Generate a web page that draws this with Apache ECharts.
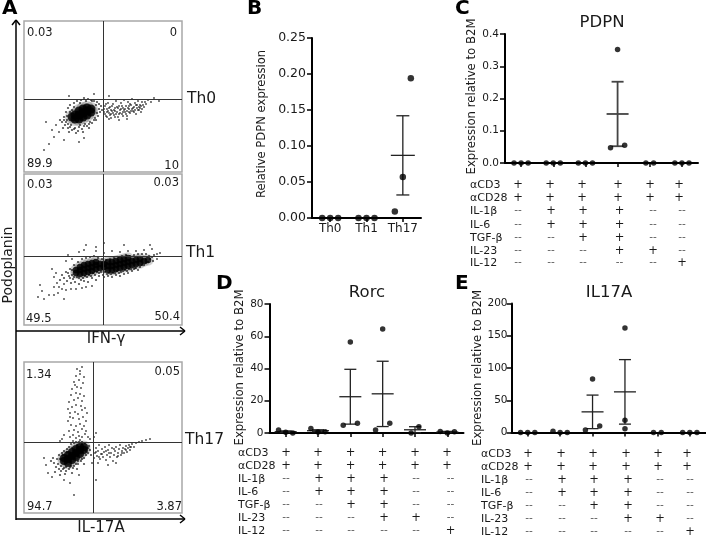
<!DOCTYPE html>
<html>
<head>
<meta charset="utf-8">
<style>html,body{margin:0;padding:0;background:#fff}#c{width:706px;height:537px}</style>
<script src="https://cdn.jsdelivr.net/npm/echarts@6/dist/echarts.min.js"></script>
</head>
<body>
<div id="c"></div>
<script>
// ---- Panel A: flow plots (events, plot units) ----
const th0Core = [[51,53],[51,57],[55,53],[55,57],[55,61],[59,55],[59,59],[59,63],[63,57],[63,61],[63,64],[67,60],[67,63],[48,55]];
const th0Halo = [[38,50],[40,55],[41,47],[42,60],[43,52],[44,44],[44,64],[46,67],[47,47],[48,42],[48,62],[50,69],[51,44],[53,71],[54,41],[56,47],[57,72],[58,43],[60,74],[61,48],[63,46],[64,73],[66,50],[67,72],[68,49],[70,71],[71,54],[72,52],[73,70],[74,56],[75,68],[76,60],[77,66],[78,62],[36,52],[39,44],[45,40],[52,39],[59,40],[65,44],[42,50],[44,48],[46,45],[50,43],[55,45],[60,46],[65,48],[70,52],[73,59],[75,63],[72,67],[68,71],[62,71],[56,69],[50,65],[46,60],[43,56],[40,52]];
const th0Sparse = [[80,60],[81,66],[82,56],[83,63],[84,69],[85,59],[86,65],[87,54],[88,61],[89,68],[90,57],[91,64],[92,71],[93,60],[94,55],[95,66],[96,62],[97,69],[98,58],[99,64],[100,72],[101,60],[102,66],[103,56],[104,70],[105,63],[106,59],[107,67],[108,73],[109,61],[110,65],[111,69],[112,58],[113,64],[114,71],[115,62],[116,67],[117,60],[118,70],[120,65],[122,68],[124,72],[127,70],[130,74],[135,71],[80,63],[82,68],[84,61],[86,57],[88,66],[90,62],[92,58],[94,64],[96,59],[98,66],[100,62],[102,58],[104,64],[106,68],[108,63],[110,60],[112,67],[114,62],[116,64],[118,63],[85,53],[95,52],[103,53],[81,58],[83,60],[85,64],[87,62],[89,59],[91,61],[93,65],[95,58],[97,63],[99,60],[101,63],[103,61],[105,66],[107,61],[109,64],[111,62],[113,67],[115,65],[117,66],[119,67],[121,70],[83,55],[87,58],[91,55],[99,56],[105,60],[20,22],[25,28],[30,35],[28,42],[32,47],[22,50],[45,76],[70,78],[85,76],[55,30],[40,32],[35,40],[60,34]];
const th1Core = [[52,52],[52,55],[56,51],[56,55],[56,58],[60,52],[60,56],[60,60],[64,53],[64,57],[64,61],[68,54],[68,58],[68,62],[72,56],[72,60],[72,63],[76,57],[76,61],[80,58],[80,61],[84,55],[84,59],[84,63],[88,55],[88,59],[88,63],[92,56],[92,60],[92,64],[96,57],[96,61],[96,65],[100,58],[100,62],[100,66],[104,59],[104,63],[104,67],[108,60],[108,64],[112,61],[112,65],[116,62],[116,66],[120,64],[124,65]];
const th1Halo = [[36,45],[38,50],[40,47],[42,53],[43,44],[45,49],[46,56],[47,42],[49,46],[50,60],[51,43],[53,48],[54,63],[55,41],[57,45],[58,66],[60,44],[61,49],[62,67],[64,43],[65,50],[66,68],[68,47],[69,52],[70,69],[72,45],[73,53],[74,67],[75,49],[77,53],[78,66],[80,48],[81,53],[82,65],[83,62],[84,49],[85,52],[86,66],[88,48],[89,52],[90,67],[92,50],[93,54],[94,68],[96,49],[97,53],[98,69],[100,51],[101,55],[102,70],[104,52],[105,56],[106,69],[108,54],[110,56],[110,70],[112,57],[114,55],[114,71],[116,58],[118,60],[118,71],[120,60],[122,62],[122,71],[124,63],[125,69],[126,66],[128,68],[130,70],[129,64],[79,58],[80,62],[44,52],[48,50],[46,47],[50,48],[48,55],[55,47],[59,47],[63,48],[67,49],[71,50],[75,52],[79,50],[83,51],[87,51],[91,52],[95,52],[99,54],[103,54],[107,56],[111,57]];
const th1Sparse = [[30,48],[33,42],[35,38],[38,36],[30,38],[42,35],[47,36],[52,36],[58,37],[40,41],[62,38],[68,39],[32,52],[28,56],[48,66],[42,64],[44,70],[55,73],[60,75],[72,74],[80,72],[88,74],[96,73],[104,74],[112,74],[120,75],[128,76],[133,71],[136,72],[133,66],[80,82],[72,78],[62,80],[126,80],[100,80],[18,34],[14,28],[20,26],[16,40],[25,30],[34,32],[40,26],[30,30]];
const th17Core = [[40,52],[40,55],[44,50],[44,54],[44,58],[48,53],[48,57],[48,61],[52,56],[52,60],[52,64],[56,59],[56,63],[56,66],[60,63],[60,66]];
const th17Halo = [[30,50],[32,46],[33,54],[35,44],[35,58],[37,42],[38,60],[40,45],[40,62],[42,42],[43,64],[45,44],[45,66],[47,47],[47,69],[49,45],[50,70],[52,49],[52,71],[54,52],[55,71],[57,52],[58,71],[60,55],[61,70],[62,58],[64,60],[65,67],[66,63],[67,58],[34,49],[29,55],[41,39],[36,38],[27,52],[31,41],[48,40],[53,44],[60,49],[37,47],[39,44],[42,46],[46,46],[50,47],[54,49],[58,54],[62,62],[64,65],[58,69],[53,68],[48,65],[43,61],[39,58],[36,54]];
const th17Sparse = [[46,76],[49,78],[52,75],[55,77],[58,76],[61,79],[64,76],[45,82],[50,83],[54,81],[58,84],[62,82],[47,88],[52,87],[56,89],[60,87],[44,92],[49,95],[55,94],[59,96],[62,92],[46,100],[51,101],[54,99],[58,103],[48,106],[52,108],[57,107],[61,105],[45,111],[50,113],[54,115],[58,112],[47,118],[52,120],[56,119],[60,117],[48,124],[53,126],[57,125],[50,131],[55,133],[59,130],[52,137],[56,139],[60,136],[53,144],[58,146],[56,142],[51,128],[44,104],[46,96],[63,100],[49,72],[56,73],[66,74],[70,76],[72,80],[40,78],[38,74],[36,72],[70,55],[71,60],[72,65],[73,57],[74,62],[75,68],[76,54],[77,59],[78,64],[79,56],[80,61],[81,66],[82,53],[83,58],[84,63],[85,68],[86,56],[87,60],[88,65],[89,52],[90,58],[91,62],[92,66],[93,56],[94,60],[95,64],[96,68],[97,58],[98,62],[99,65],[100,60],[101,64],[102,67],[103,61],[104,65],[105,68],[106,63],[107,66],[108,69],[110,66],[112,70],[115,71],[118,72],[122,73],[126,74],[72,61],[75,56],[78,59],[82,62],[85,60],[90,64],[94,57],[98,60],[102,63],[106,66],[68,50],[74,50],[84,48],[92,50],[24,40],[28,36],[22,48],[20,55],[40,33],[46,30],[55,38],[50,18],[72,33]];
const flowGateX = [79, 79, 69];
const flowGateY = [73, 69, 71];
const flowNames = ['Th0', 'Th1', 'Th17'];
const flowQuadrants = [['0.03','0','89.9','10'], ['0.03','0.03','49.5','50.4'], ['1.34','0.05','94.7','3.87']];

// ---- Panel B ----
const bCategories = ['Th0', 'Th1', 'Th17'];
const bTicks = [0, 0.05, 0.10, 0.15, 0.20, 0.25];
const bPoints = [[0,0,0],[0,0,0],[0.009,0.057,0.194]];
const bMean = [null,null,0.087];
const bLow = [null,null,0.032];
const bHigh = [null,null,0.142];

// ---- Panels C, D, E ----
const cPoints = [[0,0,0],[0,0,0],[0,0,0],[0.047,0.352,0.055],[0,0],[0,0,0]];
const cMean = [null,null,null,0.152,null,null];
const cLow = [null,null,null,0.052,null,null];
const cHigh = [null,null,null,0.252,null,null];

const dPoints = [[1.8,0.4,0],[2.8,0.6,0.8],[4.8,56.5,6],[1.8,64.5,6],[0,3.8],[1,0,0.7]];
const dMean = [0.8,1.4,22.5,24.3,2,0.6];
const dLow = [0.3,0.8,5.5,4,0.2,0.2];
const dHigh = [1.3,2,39.5,44.5,3.9,1];

const ePoints = [[0,0,0],[2,0,0],[4,83,10],[19,162,6],[0,0],[0,0,0]];
const eMean = [null,null,32,63,null,null];
const eLow = [null,null,6,13,null,null];
const eHigh = [null,null,58,113,null,null];

const rowLabels = ['αCD3','αCD28','IL-1β','IL-6','TGF-β','IL-23','IL-12'];
const P = '+', N = '--';
const treatment = [
  [P,P,P,P,P,P],
  [P,P,P,P,P,P],
  [N,P,P,P,N,N],
  [N,P,P,P,N,N],
  [N,N,P,P,N,N],
  [N,N,N,P,P,N],
  [N,N,N,N,N,P]
];

// ---- layout ----
const FONT = '"DejaVu Sans", sans-serif';
const INK = '#1a1a1a';
const grids = [], xAxes = [], yAxes = [], series = [], graphics = [];

function text(t, x, y, size, o) {
  const style = {text:t, fontSize:size, fontFamily:FONT, fill:(o&&o.fill)||INK, fontWeight:(o&&o.weight)||'normal',
      align:(o&&o.align)||'left', textAlign:(o&&o.align)||'left', verticalAlign:'middle', textVerticalAlign:'middle'};
  graphics.push(Object.assign({type:'text', x, y, silent:true, z:50, style}, o&&o.rotation?{rotation:o.rotation}:{}));
}
function seg(x1,y1,x2,y2,w){
  graphics.push({type:'line', silent:true, z:40, shape:{x1,y1,x2,y2}, style:{stroke:'#000', lineWidth:w||1.5}});
}

// Flow plots
const flowBoxes = [
  {left:24, top:21, w:158, h:151},
  {left:24, top:174, w:158, h:151},
  {left:24, top:362, w:158, h:151}
];
const coreSizes = [9, 6.5, 8];
const flowSets = [[th0Core,th0Halo,th0Sparse],[th1Core,th1Halo,th1Sparse],[th17Core,th17Halo,th17Sparse]];
flowBoxes.forEach((b,i)=>{
  const g = grids.length;
  grids.push({left:b.left, top:b.top, width:b.w, height:b.h, show:true, borderColor:'#a8a8a8', borderWidth:1.5, backgroundColor:'#fff'});
  xAxes.push({gridIndex:g, type:'value', min:0, max:b.w, show:false});
  yAxes.push({gridIndex:g, type:'value', min:0, max:b.h, show:false});
  const [core,halo,sparse] = flowSets[i];
  series.push({type:'scatter', xAxisIndex:g, yAxisIndex:g, data:sparse, symbolSize:1.8, silent:true, itemStyle:{color:'#111', opacity:0.8}});
  series.push({type:'scatter', xAxisIndex:g, yAxisIndex:g, data:halo, symbolSize:2.2, silent:true, itemStyle:{color:'#111', opacity:0.75}});
  series.push({type:'scatter', xAxisIndex:g, yAxisIndex:g, data:core, symbolSize:coreSizes[i]+5, silent:true, itemStyle:{color:'#000', opacity:0.18}});
  series.push({type:'scatter', xAxisIndex:g, yAxisIndex:g, data:core, symbolSize:coreSizes[i], silent:true, itemStyle:{color:'#000'},
    markLine:{silent:true, symbol:'none', animation:false, label:{show:false}, lineStyle:{color:'#333', width:1, type:'solid'},
      data:[{xAxis:flowGateX[i]},{yAxis:flowGateY[i]}]}});
});
const quadPos = [
  [[27,33],[177,33],[27,164],[179,166]],
  [[27,185],[179,183],[26,319],[180,317]],
  [[26,375],[180,372],[27,507],[182,507]]
];
flowQuadrants.forEach((q,i)=>q.forEach((t,j)=>text(t, quadPos[i][j][0], quadPos[i][j][1], 11.5, {align:j%2?'right':'left'})));
const flowNamePos = [[187,99],[186,253],[185,440]];
flowNames.forEach((n,i)=>text(n, flowNamePos[i][0], flowNamePos[i][1], 15.5));
text('Podoplanin', 8, 265, 14, {align:'center', rotation:Math.PI/2});
text('IFN-γ', 106, 339, 15, {align:'center'});
text('IL-17A', 101, 528, 15, {align:'center'});
// arrows
seg(16,21,16,520); seg(12,25,16,20); seg(20,25,16,20);
seg(16,331,185,331); seg(180,327,185,331); seg(180,335,185,331);
seg(16,519,185,519); seg(180,515,185,519); seg(180,523,185,519);

// Letters
[['A',2,9],['B',247,9],['C',455,9],['D',216,284],['E',455,284]].forEach(l=>text(l[0],l[1],l[2],20,{weight:'bold',fill:'#000'}));

// Dot plot panels
function panel(cfg){
  const g = grids.length, n = cfg.categories.length;
  grids.push({left:cfg.left, top:cfg.top, width:cfg.w, height:cfg.h});
  xAxes.push({gridIndex:g, type:'category', data:cfg.categories, boundaryGap:true,
    axisLine:{lineStyle:{color:'#000', width:2}}, axisTick:{show:true, alignWithLabel:true, length:4, lineStyle:{color:'#000', width:1.5}},
    axisLabel:{show:!!cfg.showCat, interval:0, fontSize:12, fontFamily:FONT, color:INK, margin:5}, splitLine:{show:false}});
  xAxes.push({gridIndex:g, type:'value', min:-0.5, max:n-0.5, show:false, splitLine:{show:false}});
  const valueX = xAxes.length-1;
  const ix = xAxes.length-2;
  yAxes.push({gridIndex:g, type:'value', min:cfg.ticks[0], max:cfg.ticks[cfg.ticks.length-1], interval:cfg.ticks[1]-cfg.ticks[0],
    name:cfg.yName, nameLocation:'middle', nameGap:cfg.nameGap, nameRotate:90,
    nameTextStyle:{fontSize:cfg.nameSize, fontFamily:FONT, color:INK, padding:[0,0,0,cfg.namePad]},
    axisLine:{show:true, onZero:false, lineStyle:{color:'#000', width:2}}, axisTick:{show:true, length:5, lineStyle:{color:'#000', width:1.5}},
    axisLabel:{fontSize:cfg.tickSize, fontFamily:FONT, color:INK, margin:cfg.tickMargin, formatter:v=>v.toFixed(cfg.decimals)}, splitLine:{show:false}});
  const yi = yAxes.length-1;
  // empty series keeps the category axis alive
  series.push({type:'scatter', xAxisIndex:ix, yAxisIndex:yi, data:[], silent:true});
  const errs = [];
  cfg.mean.forEach((m,i)=>{ if(m!==null) errs.push([i,m,cfg.low[i],cfg.high[i]]); });
  series.push({type:'custom', xAxisIndex:valueX, yAxisIndex:yi, silent:true, z:3, clip:false, data:errs,
    encode:{x:0,y:[1,2,3]},
    renderItem:(p,api)=>{
      const x=api.value(0), c=api.coord([x,api.value(1)]), lo=api.coord([x,api.value(2)]), hi=api.coord([x,api.value(3)]);
      const st={stroke:cfg.errColor, lineWidth:cfg.errWidth, fill:null};
      const line=(x1,y1,x2,y2)=>({type:'line', shape:{x1,y1,x2,y2}, style:st});
      return {type:'group', children:[
        line(c[0],hi[1],c[0],lo[1]),
        line(c[0]-cfg.capW,hi[1],c[0]+cfg.capW,hi[1]),
        line(c[0]-cfg.capW,lo[1],c[0]+cfg.capW,lo[1]),
        line(c[0]-cfg.meanW,c[1],c[0]+cfg.meanW,c[1])
      ]};
    }});
  const pts = [];
  cfg.points.forEach((vals,i)=>{
    const jit = (cfg.jitterOverride&&cfg.jitterOverride[i]) || (vals.length===3?[-0.22,0,0.22]:[-0.12,0.12]);
    vals.forEach((v,j)=>pts.push([i+jit[j],v]));
  });
  series.push({type:'scatter', xAxisIndex:valueX, yAxisIndex:yi, data:pts, symbolSize:cfg.dot, silent:true, z:4, clip:false, itemStyle:{color:'#000'}});

  if(cfg.table){
    const t=cfg.table;
    rowLabels.forEach((r,ri)=>{
      text(r, t.labelX, t.rowY[ri], 11);
      treatment[ri].forEach((s,ci)=>{
        const x=(ri<2?t.upperX:t.lowerX)[ci];
        text(s, x, t.rowY[ri]-(s===N?1:0), s===P?11.5:10.5, {align:'center', fill:s===N?'#555':INK});
      });
    });
  }
  if(cfg.title) text(cfg.title, cfg.titleX, cfg.titleY, 16.5, {align:'center'});
}

panel({left:312, top:38, w:109, h:180, categories:bCategories, showCat:true, ticks:bTicks, decimals:2,
  yName:'Relative PDPN expression', nameGap:44, nameSize:11.6, namePad:8, tickSize:12.5, tickMargin:6,
  points:bPoints, mean:bMean, low:bLow, high:bHigh, dot:6.5, capW:6.5, meanW:12, errColor:'#222', errWidth:1.3});
panel({left:505, top:34, w:193, h:129, categories:['1','2','3','4','5','6'], ticks:[0,0.1,0.2,0.3,0.4], decimals:1,
  yName:'Expression relative to B2M', nameGap:21, nameSize:11.7, namePad:4, tickSize:10.5, tickMargin:6,
  points:cPoints, mean:cMean, low:cLow, high:cHigh, dot:5.5, capW:6, meanW:11, errColor:'#444', errWidth:1.8,
  title:'PDPN', titleX:602, titleY:23,
  table:{labelX:470, rowY:[185,198.5,211.5,225.5,238,251,263],
    upperX:[518,550,582,618,650,679], lowerX:[518,551,583,619.5,653,682]}});
panel({left:269.5, top:304, w:194, h:129, categories:['1','2','3','4','5','6'], ticks:[0,20,40,60,80], decimals:0,
  yName:'Expression relative to B2M', nameGap:23, nameSize:11.7, namePad:2, tickSize:10.5, tickMargin:6,
  points:dPoints, mean:dMean, low:dLow, high:dHigh, dot:5.5, capW:6, meanW:11, errColor:'#222', errWidth:1.3,
  title:'Rorc', titleX:367, titleY:292.5,
  table:{labelX:238, rowY:[453.5,466.5,479.5,492.5,505.5,518.5,531.5],
    upperX:[286,318,350.5,382.5,415,447], lowerX:[286,319,351,384,416,450.5]}});
panel({left:511.5, top:303.5, w:194.5, h:129, categories:['1','2','3','4','5','6'], ticks:[0,50,100,150,200], decimals:0,
  yName:'Expression relative to B2M', nameGap:24, nameSize:11.7, namePad:0, tickSize:10.5, tickMargin:4,
  points:ePoints, mean:eMean, low:eLow, high:eHigh, dot:5.5, capW:6, meanW:11, errColor:'#222', errWidth:1.3,
  jitterOverride:{3:[0,0,0]},
  title:'IL17A', titleX:609, titleY:292.5,
  table:{labelX:481, rowY:[454,467,480,493,506,519,532],
    upperX:[528,561,593,626,658,687], lowerX:[529,562,594,628,660,690]}});

const chart = echarts.init(document.getElementById('c'), null, {renderer:'canvas'});
chart.setOption({animation:false, backgroundColor:'#fff', grid:grids, xAxis:xAxes, yAxis:yAxes, series, graphic:graphics});
</script>
</body>
</html>
